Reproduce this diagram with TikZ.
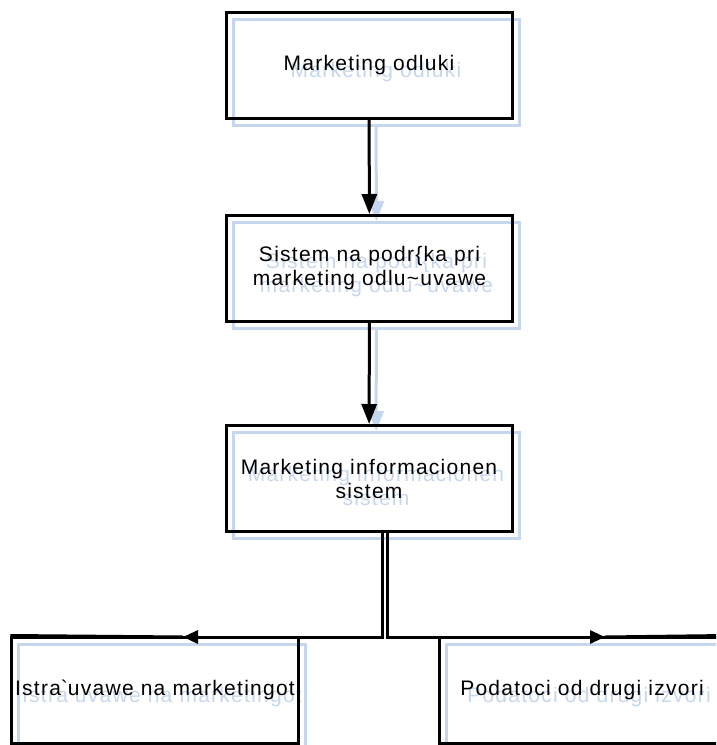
\documentclass[tikz,border=0pt]{standalone}
\usepackage{fontspec}
\setmainfont{Liberation Sans}
\newfontfamily\kutijafont[LetterSpace=6]{Liberation Sans}
\usetikzlibrary{arrows.meta}
\definecolor{senka}{RGB}{198,214,236}

\tikzset{
  kutija/.style={draw, rectangle, line width=3pt, minimum width=286pt, minimum height=106pt,
    align=center, font=\kutijafont\fontsize{21}{24}\selectfont},
  senkabox/.style={kutija, draw=senka, text=senka},
  strelka/.style={line width=3pt, -{Triangle[length=20pt,width=15pt]}},
  strelkah/.style={line width=3pt, -{Triangle[length=15pt,width=13pt]}}
}
\newcommand{\tekstsistem}{Sistem na podr\{ka pri\\marketing odlu\textasciitilde uvawe}
\newcommand{\tekstistr}{Istra\textasciigrave uvawe na marketingot}

\begin{document}
\begin{tikzpicture}[x=1pt, y=-1pt]
\useasboundingbox (0,0) rectangle (716,745);
\clip (0,0) rectangle (716,745);

% senka (svetlo sina kopija)
\begin{scope}[shift={(7,7)}]
\node[senkabox] (odlukiS) at (369,65) {Marketing odluki};
\node[senkabox] (sistemS) at (369.5,268.5) {\tekstsistem};
\node[senkabox] (misS) at (369,478.5) {Marketing informacionen\\sistem};
\node[senkabox, minimum width=284pt] (istrS) at (155,690) {\tekstistr};
\node[senkabox] (podatociS) at (582,690) {Podatoci od drugi izvori};
\draw[strelka, senka] (odlukiS) -- (sistemS);
\draw[strelka, senka] (sistemS) -- (misS);
\end{scope}

% kutii
\node[kutija] (odluki) at (369,65) {Marketing odluki};
\node[kutija] (sistem) at (369.5,268.5) {\tekstsistem};
\node[kutija] (mis) at (369,478.5) {Marketing informacionen\\sistem};
\node[kutija, minimum width=284pt] (istr) at (155,690) {\tekstistr};
\node[kutija] (podatoci) at (582,690) {Podatoci od drugi izvori};

\draw[strelka] (odluki) -- (sistem);
\draw[strelka] (sistem) -- (mis);

% razgranuvanje
\coordinate (vrvL) at (183,637);
\coordinate (vrvD) at (605,637);
\draw[strelkah] ([xshift=13pt]mis.south) |- (vrvL);
\draw[line width=3pt] (vrvL) -- (istr.north west);
\draw[strelkah] ([xshift=18pt]mis.south) |- (vrvD);
\draw[line width=3pt] (vrvD) -- (podatoci.north east);
\end{tikzpicture}
\end{document}
